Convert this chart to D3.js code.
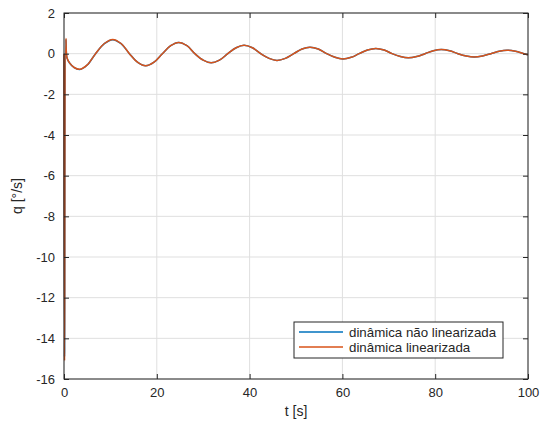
<!DOCTYPE html>
<html>
<head>
<meta charset="utf-8">
<script src="https://cdn.jsdelivr.net/npm/d3@7"></script>
<style>
  body { margin: 0; background: #fff; }
  text { font-family: "Liberation Sans", Arial, sans-serif; fill: #262626; }
</style>
</head>
<body>
<div id="chart"></div>
<script>
// time samples (s)
var time = [0, 0.12, 0.4, 0.65, 1.2, 2.2, 3.4, 5.0, 6.8,
  8.7, 10.5, 12.3, 14.1, 15.9, 17.6, 19.4, 21.2, 23.0, 24.7, 26.5, 28.2,
  30.0, 31.7, 33.5, 35.3, 37.1, 38.8, 40.6, 42.4, 44.2, 45.9, 47.7, 49.5,
  51.3, 53.0, 54.8, 56.6, 58.4, 60.1, 61.9, 63.6, 65.4, 67.2, 69.0, 70.7,
  72.5, 74.2, 76.0, 77.8, 79.6, 81.3, 83.1, 84.9, 86.7, 88.4, 90.2, 92.0,
  93.8, 95.5, 97.3, 99.1, 100];
// pitch rate q [deg/s], non-linear model
var qNonLinear = [0, -14.9, 0.7, -0.22, -0.46, -0.69, -0.78, -0.56, 0,
  0.49, 0.69, 0.49, 0, -0.43, -0.6, -0.42, 0, 0.39, 0.55, 0.39, 0,
  -0.32, -0.45, -0.32, 0, 0.29, 0.41, 0.29, 0, -0.23, -0.33, -0.23, 0,
  0.23, 0.32, 0.23, 0, -0.18, -0.26, -0.18, 0, 0.18, 0.26, 0.18, 0,
  -0.14, -0.2, -0.14, 0, 0.14, 0.2, 0.14, 0, -0.11, -0.16, -0.11, 0,
  0.12, 0.17, 0.12, 0, -0.05];
// pitch rate q [deg/s], linearised model
var qLinear = [0, -15.1, 0.75, -0.2, -0.45, -0.68, -0.77, -0.55, 0,
  0.5, 0.7, 0.5, 0, -0.43, -0.6, -0.42, 0, 0.39, 0.55, 0.39, 0,
  -0.32, -0.45, -0.32, 0, 0.29, 0.41, 0.29, 0, -0.23, -0.33, -0.23, 0,
  0.23, 0.32, 0.23, 0, -0.18, -0.26, -0.18, 0, 0.18, 0.26, 0.18, 0,
  -0.14, -0.2, -0.14, 0, 0.14, 0.2, 0.14, 0, -0.11, -0.16, -0.11, 0,
  0.12, 0.17, 0.12, 0, -0.05];
var xTicks = [0, 20, 40, 60, 80, 100];
var yTicks = [2, 0, -2, -4, -6, -8, -10, -12, -14, -16];
var seriesNames = ["dinâmica não linearizada", "dinâmica linearizada"];
var seriesColors = ["#0072BD", "#D95319"];

var W = 545, H = 425;
var margin = {left: 64, right: 17, top: 13, bottom: 46};
var width = W - margin.left - margin.right, height = H - margin.top - margin.bottom;

var svg = d3.select("#chart").append("svg")
    .attr("width", W)
    .attr("height", H);
var g = svg.append("g")
    .attr("transform", "translate(" + margin.left + "," + margin.top + ")");

var x = d3.scaleLinear().domain([0, 100]).range([0, width]);
var y = d3.scaleLinear().domain([-16, 2]).range([height, 0]);

// grid
g.append("g").selectAll("line").data(xTicks).enter().append("line")
    .attr("x1", function(d){ return x(d); }).attr("x2", function(d){ return x(d); })
    .attr("y1", 0).attr("y2", height)
    .style("stroke", "#dfdfdf").style("stroke-width", 1);
g.append("g").selectAll("line").data(yTicks).enter().append("line")
    .attr("y1", function(d){ return y(d); }).attr("y2", function(d){ return y(d); })
    .attr("x1", 0).attr("x2", width)
    .style("stroke", "#dfdfdf").style("stroke-width", 1);

// lines
var data = [qNonLinear, qLinear];
var line = d3.line()
    .x(function(d, i){ return x(time[i]); })
    .y(function(d){ return y(d); })
    .curve(d3.curveCatmullRom.alpha(0.5));

g.append("g").selectAll("path").data(data).enter().append("path")
    .attr("d", line)
    .style("fill", "none")
    .style("stroke", function(d, i){ return seriesColors[i]; })
    .style("stroke-width", 1.5);

// axes (ticks inside, box on)
function styleAxis(sel){
  sel.select(".domain").remove();
  sel.selectAll("line").style("stroke", "#262626");
  sel.selectAll("text").style("font-size", "13px").style("fill", "#262626");
}
g.append("g").attr("transform", "translate(0," + height + ")")
    .call(d3.axisBottom(x).tickValues(xTicks).tickSize(-5).tickPadding(9))
    .call(styleAxis);
g.append("g")
    .call(d3.axisTop(x).tickValues(xTicks).tickSize(-5).tickFormat(""))
    .call(styleAxis);
g.append("g")
    .call(d3.axisLeft(y).tickValues(yTicks).tickSize(-5).tickPadding(9).tickFormat(function(d){ return d < 0 ? "-" + Math.abs(d) : d; }))
    .call(styleAxis);
g.append("g").attr("transform", "translate(" + width + ",0)")
    .call(d3.axisRight(y).tickValues(yTicks).tickSize(-5).tickFormat(""))
    .call(styleAxis);

g.append("rect")
    .attr("width", width).attr("height", height)
    .style("fill", "none").style("stroke", "#262626").style("stroke-width", 1);

// axis labels
g.append("text")
    .attr("x", width / 2).attr("y", height + 37)
    .attr("text-anchor", "middle")
    .style("font-size", "14px")
    .text("t [s]");
g.append("text")
    .attr("transform", "translate(-42," + (height / 2) + ") rotate(-90)")
    .attr("text-anchor", "middle")
    .style("font-size", "14px")
    .text("q [°/s]");

// legend
var legend = g.append("g").attr("transform", "translate(" + (294 - margin.left) + "," + (322 - margin.top) + ")");
legend.append("rect")
    .attr("width", 209).attr("height", 36)
    .style("fill", "#fff").style("stroke", "#262626").style("stroke-width", 1);
var item = legend.selectAll("g.item").data(seriesNames).enter().append("g")
    .attr("transform", function(d, i){ return "translate(0," + (10 + i * 15) + ")"; });
item.append("line")
    .attr("x1", 5).attr("x2", 49)
    .style("stroke", function(d, i){ return seriesColors[i]; })
    .style("stroke-width", 1.5);
item.append("text")
    .attr("x", 55).attr("dy", "0.35em")
    .style("font-size", "13.3px")
    .text(function(d){ return d; });
</script>
</body>
</html>
